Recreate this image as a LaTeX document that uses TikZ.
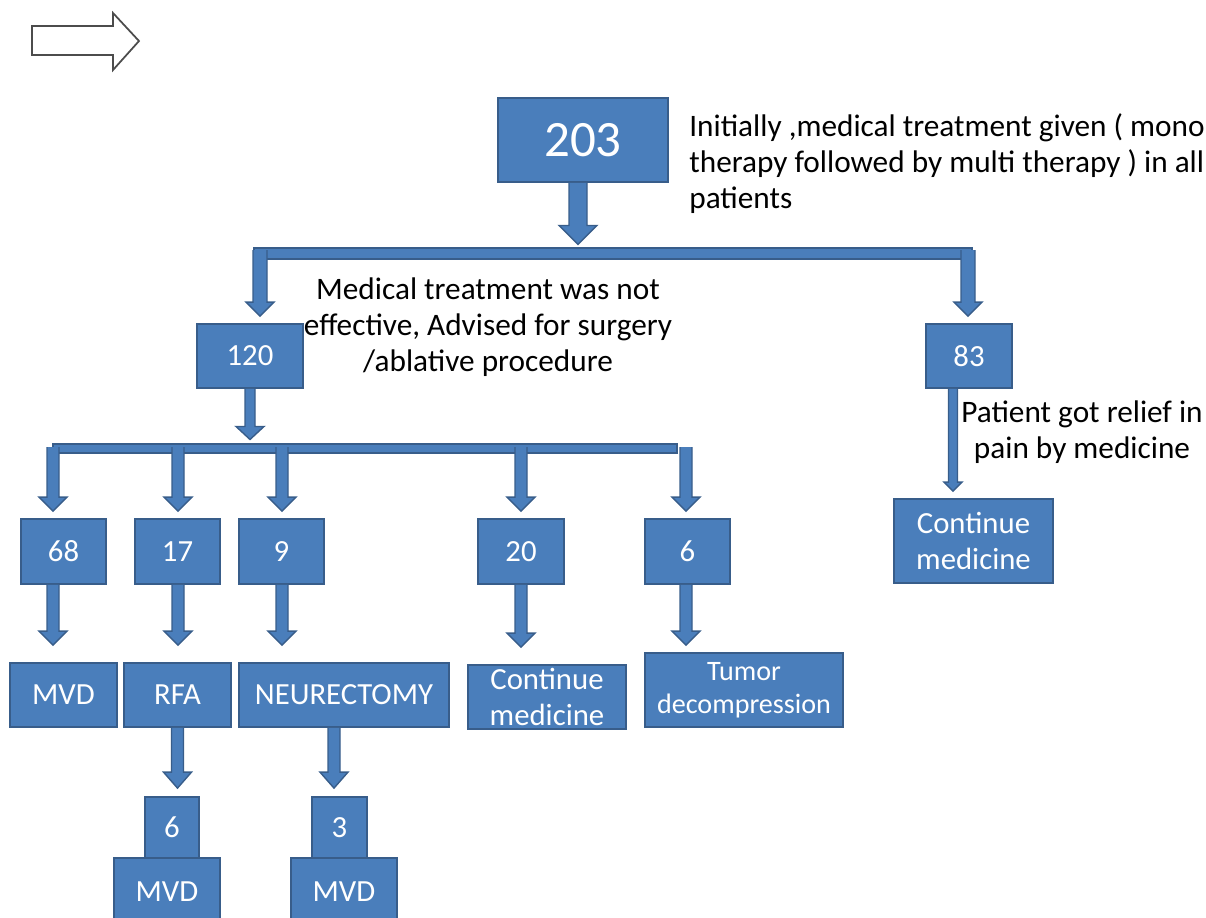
\documentclass[tikz,border=0pt]{standalone}
\usepackage{fontspec}
\setmainfont{Carlito}
\usetikzlibrary{calc,fit}
\definecolor{boxblue}{HTML}{4A7EBB}
\definecolor{boxline}{HTML}{385D8A}
\tikzset{
  box/.style 2 args={draw=boxline,fill=boxblue,line width=1pt,inner sep=0pt,text=white,align=center,
    minimum width=#1*0.02cm,minimum height=#2*0.02cm,font=\fontsize{17.5}{21}\selectfont},
  bar/.style={draw=boxline,fill=boxblue,line width=0.6pt,inner sep=0pt},
  arr/.style={draw=boxline,fill=boxblue,line width=0.8pt,line join=miter},
  note/.style={inner sep=0pt,font=\fontsize{17.8}{20.5}\selectfont}
}
\newcommand{\blkarr}[6]{%
  \fill[arr] ($(#1)+(-#3,0)$) -- ($(#1 |- #2)+(-#3,-#6-#5)$) -- ($(#1 |- #2)+(-#4,-#6-#5)$)
    -- ($(#1 |- #2)+(0,-#6)$) -- ($(#1 |- #2)+(#4,-#6-#5)$) -- ($(#1 |- #2)+(#3,-#6-#5)$) -- ($(#1)+(#3,0)$);}
\begin{document}
\begin{tikzpicture}[x=0.02cm,y=-0.02cm]
  \useasboundingbox (0,0) rectangle (1206,917);
  \clip (0,0) rectangle (1206,917);
  \draw[line width=1pt,black!70,line join=miter] (32,26) -- (113,26) -- (113,13) -- (139,41) -- (113,70) -- (113,55) -- (32,55) -- cycle;

  \node[box={170}{84},font=\fontsize{29}{34}\selectfont] (n203) at (583,140) {203};
  \node[note,anchor=west,align=left] (t203) at (689,164) {Initially ,medical treatment given ( mono\\therapy followed by multi therapy ) in all\\patients};
  \node[bar,fit={(254,248)(972,259)}] (bar1) {};
  \coordinate (s203) at ($(n203.south)+(-5,0)$);
  \blkarr{s203}{bar1.north}{9}{19}{19}{3}

  \node[box={106}{64}] (n120) at (250,356) {120};
  \node[box={86}{64}] (n83) at (969,356) {83};
  \coordinate (b120) at (260,250);
  \coordinate (b83) at (968,250);
  \blkarr{b120}{n120.north}{7}{14}{14}{7}
  \blkarr{b83}{n83.north}{7}{14}{14}{7}
  \node[note,align=center] (t120) at (488,327) {Medical treatment was not\\effective, Advised for surgery\\/ablative procedure};
  \node[note,align=center] (t83) at (1082,432) {Patient got relief in\\pain by medicine};
  \node[box={159}{84}] (cont2) at (973.5,541) {Continue\\medicine};
  \coordinate (s83) at ($(n83.south)+(-16,0)$);
  \blkarr{s83}{cont2.north}{4.5}{9}{9}{7}

  \node[bar,fit={(53,444)(677,453)}] (bar2) {};
  \blkarr{n120.south}{bar2.north}{5}{14}{13}{4}

  \node[box={85}{65}] (n68) at (63.5,551.5) {68};
  \node[box={85}{65}] (n17) at (177.5,551.5) {17};
  \node[box={85}{65}] (n9) at (281.5,551.5) {9};
  \node[box={86}{65}] (n20) at (521,551.5) {20};
  \node[box={85}{65}] (n6) at (687.5,551.5) {6};

  \node[box={107}{64}] (mvd) at (63.5,695) {MVD};
  \node[box={107}{64}] (rfa) at (177.5,695) {RFA};
  \node[box={210}{64}] (neur) at (344,695) {NEURECTOMY};
  \node[box={158}{64}] (cont) at (547,697) {Continue\\medicine};
  \node[box={198}{74},font=\fontsize{16}{19}\selectfont] (tumor) at (744,690) {Tumor\\decompression};

  \foreach \x/\n/\m/\g in {53/68/mvd/17,178/17/rfa/17,282/9/neur/17,521/20/cont/17,686/6/tumor/7} {
    \coordinate (b\n) at (\x,447);
    \coordinate (s\n) at (b\n |- n\n.south);
    \blkarr{b\n}{n\n.north}{6}{14}{14}{7}
    \blkarr{s\n}{\m.north}{6}{14}{14}{\g}
  }

  \node[box={54}{61}] (six) at (172,827.5) {6};
  \node[box={106}{67}] (mvda) at (167,891.5) {MVD};
  \node[box={55}{61}] (three) at (339.5,827.5) {3};
  \node[box={106}{67}] (mvdb) at (344,891.5) {MVD};
  \coordinate (sneur) at ($(neur.south)+(-10,0)$);
  \blkarr{rfa.south}{six.north}{6}{14}{16}{8}
  \blkarr{sneur}{three.north}{6}{14}{16}{8}
\end{tikzpicture}
\end{document}
